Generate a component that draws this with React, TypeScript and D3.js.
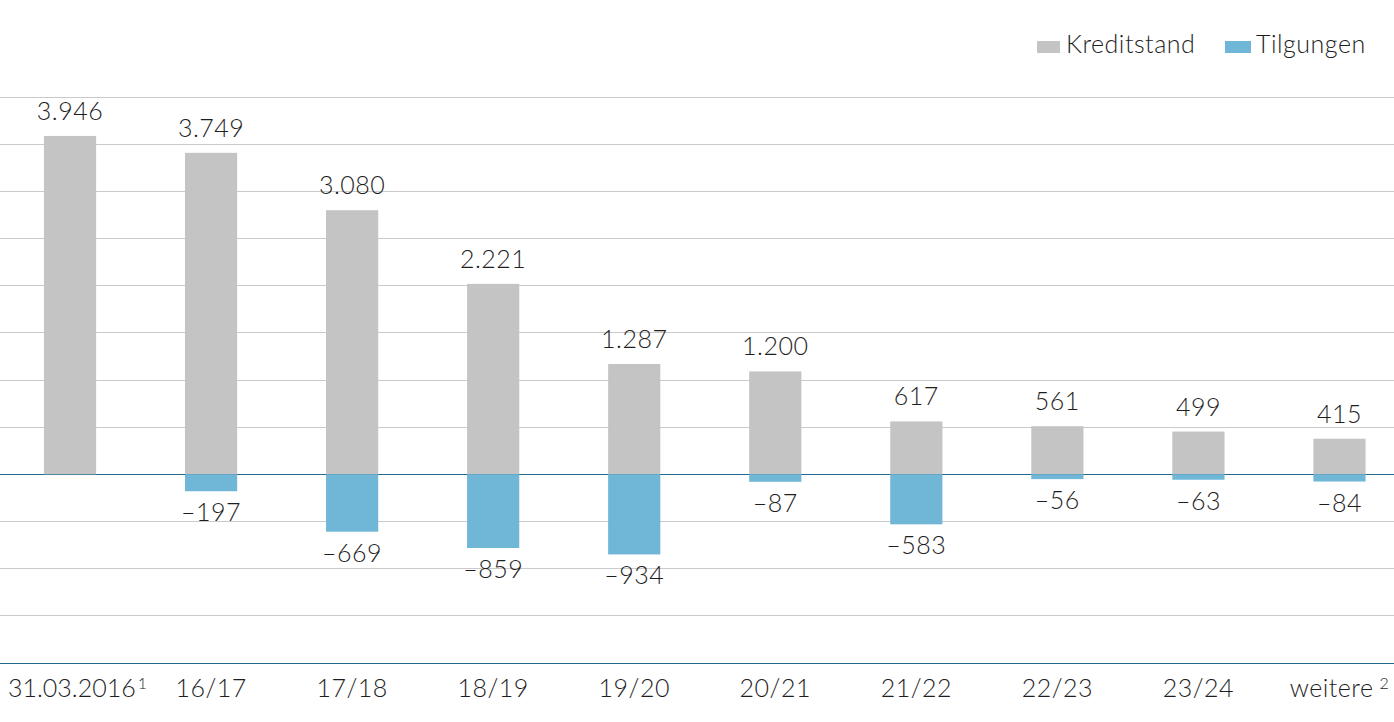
import React from "react";
import * as d3 from "d3";

const categories = ["31.03.2016", "16/17", "17/18", "18/19", "19/20", "20/21", "21/22", "22/23", "23/24", "weitere"];
const footnotes = ["1", "", "", "", "", "", "", "", "", "2"];
const kreditstand = [3946, 3749, 3080, 2221, 1287, 1200, 617, 561, 499, 415];
const tilgungen: (number | null)[] = [null, -197, -669, -859, -934, -87, -583, -56, -63, -84];
const gridValues = d3.range(-2200, 4401, 550);

const W = 1394;
const H = 722;
const FONT = "Lato, 'Open Sans', sans-serif";
const GRAY = "#c4c4c4";
const BLUE = "#70b6d7";
const AXIS = "#1f6a8e";
const GRID = "#cacaca";
const TEXT = "#1e1e1e";
const FS = 25;
const LS = 0.5;
const MARGIN_LEFT = 8;

const fmt = (v: number) => {
  const s = Math.abs(v).toString().replace(/\B(?=(\d{3})+(?!\d))/g, ".");
  return v < 0 ? "\u2013" + s : s;
};

export default function App() {
  const x = d3.scaleBand<string>().domain(categories).range([-0.5, 1410]).paddingInner(0.63).paddingOuter(0.315);
  const y = d3.scaleLinear().domain([-2200, 4400]).range([663, 97]);
  const bw = x.bandwidth();
  const y0 = y(0);

  return (
    <svg width={W} height={H} style={{ position: "absolute", left: 0, top: 0, background: "#fff" }} fontFamily={FONT}>
      {gridValues.map((v) => (
        <line key={v} x1={0} x2={W} y1={y(v)} y2={y(v)} stroke={v === 0 || v === -2200 ? AXIS : GRID} strokeWidth={1} shapeRendering="crispEdges" />
      ))}
      {categories.map((c, i) => {
        const cx = x(c)! + bw / 2;
        const k = kreditstand[i];
        const t = tilgungen[i];
        const first = i === 0;
        return (
          <g key={c}>
            <rect x={x(c)} y={y(k)} width={bw} height={y0 - y(k)} fill={GRAY} />
            {t !== null && <rect x={x(c)} y={y0} width={bw} height={y(t) - y0} fill={BLUE} />}
            <text x={cx} y={y(k) - 16} textAnchor="middle" fontSize={FS} fontWeight={300} letterSpacing={LS} fill={TEXT}>{fmt(k)}</text>
            {t !== null && (
              <text x={cx} y={y(t) + 30} textAnchor="middle" fontSize={FS} fontWeight={300} letterSpacing={LS} fill={TEXT}>{fmt(t)}</text>
            )}
            <text x={first ? MARGIN_LEFT : cx} y={697} textAnchor={first ? "start" : "middle"} fontSize={FS} fontWeight={300} letterSpacing={first ? 0 : LS} fill={TEXT}>
              {c}
              {footnotes[i] && (
                <tspan dx={c === "weitere" ? 6 : 2} dy={-8} fontSize={16}>{footnotes[i]}</tspan>
              )}
            </text>
          </g>
        );
      })}
      <g>
        <rect x={1037} y={41} width={23} height={12} fill={GRAY} />
        <text x={1066} y={53} fontSize={FS} fontWeight={300} letterSpacing={LS} fill={TEXT}>Kreditstand</text>
        <rect x={1225} y={41} width={26} height={12} fill={BLUE} />
        <text x={1256} y={53} fontSize={FS} fontWeight={300} letterSpacing={LS} fill={TEXT}>Tilgungen</text>
      </g>
    </svg>
  );
}
